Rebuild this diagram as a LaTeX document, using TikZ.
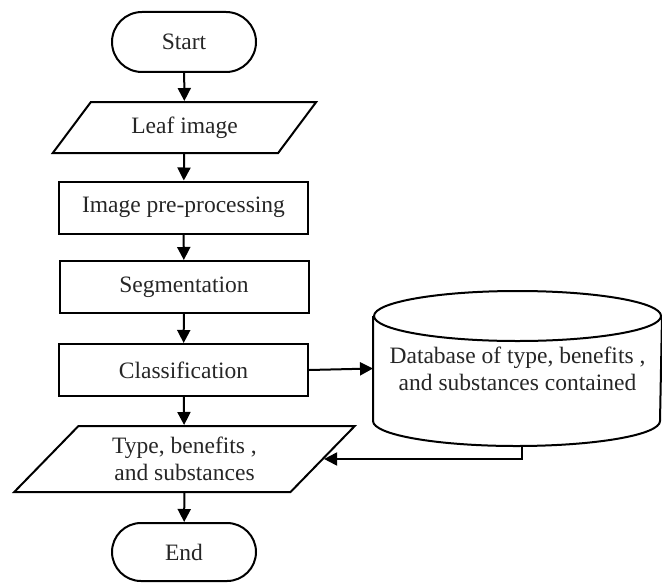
\documentclass[tikz,border=0pt]{standalone}
\usepackage{fontspec}
\setmainfont{Liberation Serif}
\usetikzlibrary{shapes.geometric,shapes.misc,arrows.meta}

\tikzset{
  term/.style={draw, rounded rectangle, minimum width=72pt, minimum height=30pt, inner sep=0pt},
  proc/.style={draw, rectangle, minimum width=124.5pt, minimum height=26pt, inner sep=0pt},
  io/.style={draw, trapezium, trapezium left angle=45, trapezium right angle=135,
    trapezium stretches=true, inner sep=0pt, align=center},
  flow/.style={-{Triangle[length=6.5pt,width=6.5pt]}},
}

\begin{document}
\begin{tikzpicture}[x=0.5pt,y=-0.5pt,line width=1pt,
  font=\fontsize{11.75}{13.5}\selectfont, text=black!85]
\useasboundingbox (0,0) rectangle (662,583);

\node[term] (start) at (184,42) {Start};
\node[io, minimum width=132.5pt, minimum height=25.5pt] (leaf) at (184.5,127.5) {Leaf image};
\node[proc] (pre) at (183.5,207.5) {Image pre-processing};
\node[proc] (seg) at (184,287) {Segmentation};
\node[proc] (cls) at (183.5,370) {Classification};
\node[io, minimum width=170.5pt, minimum height=33pt] (type) at (184.5,459) {Type, benefits ,\\ and substances};
\node[term, minimum height=29pt] (end) at (184,552) {End};

\node[minimum width=143.5pt, minimum height=51.5pt, inner sep=0pt, align=center] (db) at (517.5,368.5)
  {Database of type, benefits ,\\ and substances contained};
\draw (db.north) ellipse [x radius=71.75pt, y radius=12.5pt];
\draw (db.north west) -- (db.south west)
  arc [start angle=180, end angle=360, x radius=71.75pt, y radius=12.5pt] -- (db.north east);
\coordinate (dbfoot) at (522,445);

\draw[flow] (start) -- (leaf);
\draw[flow] (leaf) -- (pre);
\draw[flow] (pre) -- (seg);
\draw[flow] (seg) -- (cls);
\draw[flow] (cls.east) -- (db.west);
\draw[flow] (cls) -- (type);
\draw[flow] (dbfoot) |- (type.east);
\draw[flow] (type) -- (end);

\end{tikzpicture}
\end{document}
